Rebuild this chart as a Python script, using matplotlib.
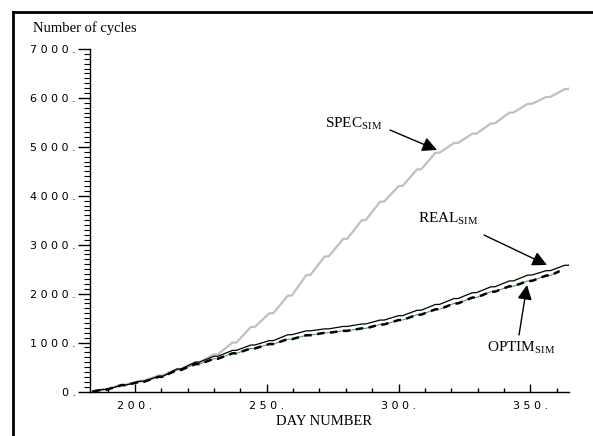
import numpy as np
import matplotlib.pyplot as plt
from matplotlib.lines import Line2D
from matplotlib.ticker import MultipleLocator, FixedLocator

plt.rcParams['mathtext.fontset'] = 'custom'
plt.rcParams['mathtext.rm'] = 'Liberation Serif'

# ---------- data (cumulative cycles at end of each week) ----------
week_days = [188, 195, 202, 209, 216, 223, 230, 237, 244, 251, 258, 265, 272,
             279, 286, 293, 300, 307, 314, 321, 328, 335, 342, 349, 356, 363]
spec_sim = [50, 140, 220, 330, 460, 600, 760, 1000, 1320, 1600, 1960, 2380, 2760,
            3120, 3500, 3880, 4200, 4540, 4880, 5080, 5270, 5480, 5700, 5880, 6020, 6180]
real_sim = [40, 130, 210, 310, 460, 600, 720, 840, 950, 1040, 1160, 1240, 1280,
            1330, 1380, 1460, 1550, 1660, 1780, 1900, 2020, 2140, 2260, 2380, 2470, 2580]
optim_sim = [40, 130, 200, 300, 440, 560, 670, 780, 880, 970, 1070, 1150, 1200,
             1240, 1290, 1370, 1460, 1570, 1680, 1800, 1920, 2040, 2150, 2260, 2370, 2440]
start_day = 184
end_day = {"spec": 365, "real": 365, "optim": 361}
end_val = {"spec": 6220, "real": 2610, "optim": 2460}

x_ticks = [200, 250, 300, 350]
y_ticks = [0, 1000, 2000, 3000, 4000, 5000, 6000, 7000]


def weekly_steps(vals, last_day, last_val):
    # each week: a short flat shelf (weekend) after the rise
    xs, ys = [start_day], [0]
    for d, v in zip(week_days, vals):
        if d > last_day:
            break
        xs += [d, d + 1.5]
        ys += [v, v]
    xs.append(last_day)
    ys.append(last_val)
    return xs, ys


W, H = 593, 436
fig = plt.figure(figsize=(W / 100, H / 100), dpi=100)
ax = fig.add_axes([90 / W, 1 - 391.5 / H, (569 - 90) / W, (391.5 - 49) / H])

sx, sy = weekly_steps(spec_sim, end_day["spec"], end_val["spec"])
rx, ry = weekly_steps(real_sim, end_day["real"], end_val["real"])
ox, oy = weekly_steps(optim_sim, end_day["optim"], end_val["optim"])

ax.plot(sx, sy, color='#c0c0c0', lw=1.6)
ax.plot(ox, oy, color='#3c9a3c', lw=0.7)
ax.plot(ox, oy, color='black', lw=1.8, dashes=(3.0, 2.2))
ax.plot(rx, ry, color='black', lw=0.9)

ax.set_xlim(183, 364.6)
ax.set_ylim(0, 7000)

for side in ('top', 'right'):
    ax.spines[side].set_visible(False)
ax.spines['left'].set_linewidth(1.0)
ax.spines['bottom'].set_linewidth(1.0)

ax.xaxis.set_major_locator(FixedLocator(x_ticks))
ax.xaxis.set_minor_locator(MultipleLocator(10))
ax.yaxis.set_major_locator(FixedLocator(y_ticks))
ax.yaxis.set_minor_locator(MultipleLocator(100))

tick_font = dict(family='DejaVu Sans', size=8)
ax.set_xticklabels([' '.join(f"{t}.") for t in x_ticks], fontdict=tick_font)
ax.set_yticklabels([' '.join(f"{t}.") for t in y_ticks], fontdict=tick_font)

ax.tick_params(axis='x', which='major', direction='in', length=6, width=1, pad=7)
ax.tick_params(axis='x', which='minor', direction='in', length=3, width=1)
ax.tick_params(axis='y', which='major', direction='out', length=9, width=1, pad=1)
ax.tick_params(axis='y', which='minor', direction='out', length=4, width=0.8)

serif = 'Liberation Serif'
fig.text(33 / W, 1 - 28 / H, "Number of cycles", family=serif, fontsize=10.5,
         va='center', ha='left')
fig.text(324 / W, 1 - 421 / H, "DAY NUMBER", family=serif, fontsize=10.5,
         va='center', ha='center')

# annotations with filled arrow heads
arrow = dict(arrowstyle='-|>', color='black', lw=1.0, mutation_scale=22,
             shrinkA=0, shrinkB=0)


def px(x, y):
    return (x / W, 1 - y / H)


ax.annotate("", xy=px(437, 150), xytext=px(390, 130), xycoords='figure fraction',
            textcoords='figure fraction', arrowprops=arrow)
ax.annotate("", xy=px(547, 265), xytext=px(484, 235), xycoords='figure fraction',
            textcoords='figure fraction', arrowprops=arrow)
ax.annotate("", xy=px(527, 285), xytext=px(519, 335), xycoords='figure fraction',
            textcoords='figure fraction', arrowprops=arrow)

lab = dict(family=serif, fontsize=11, va='center', ha='left')
fig.text(*px(325, 124), r"SPEC$_{\mathrm{SIM}}$", **lab)
fig.text(*px(418, 219), r"REAL$_{\mathrm{SIM}}$", **lab)
fig.text(*px(487, 348), r"OPTIM$_{\mathrm{SIM}}$", **lab)

# outer frame (left and top edges)
fig.add_artist(Line2D([13 / W, 13 / W], [0, 1 - 12 / H], color='black', lw=2.0,
                      transform=fig.transFigure, solid_capstyle='projecting'))
fig.add_artist(Line2D([13 / W, 1], [1 - 12 / H, 1 - 12 / H], color='black', lw=2.0,
                      transform=fig.transFigure, solid_capstyle='projecting'))

fig.savefig("out.png", dpi=100)
